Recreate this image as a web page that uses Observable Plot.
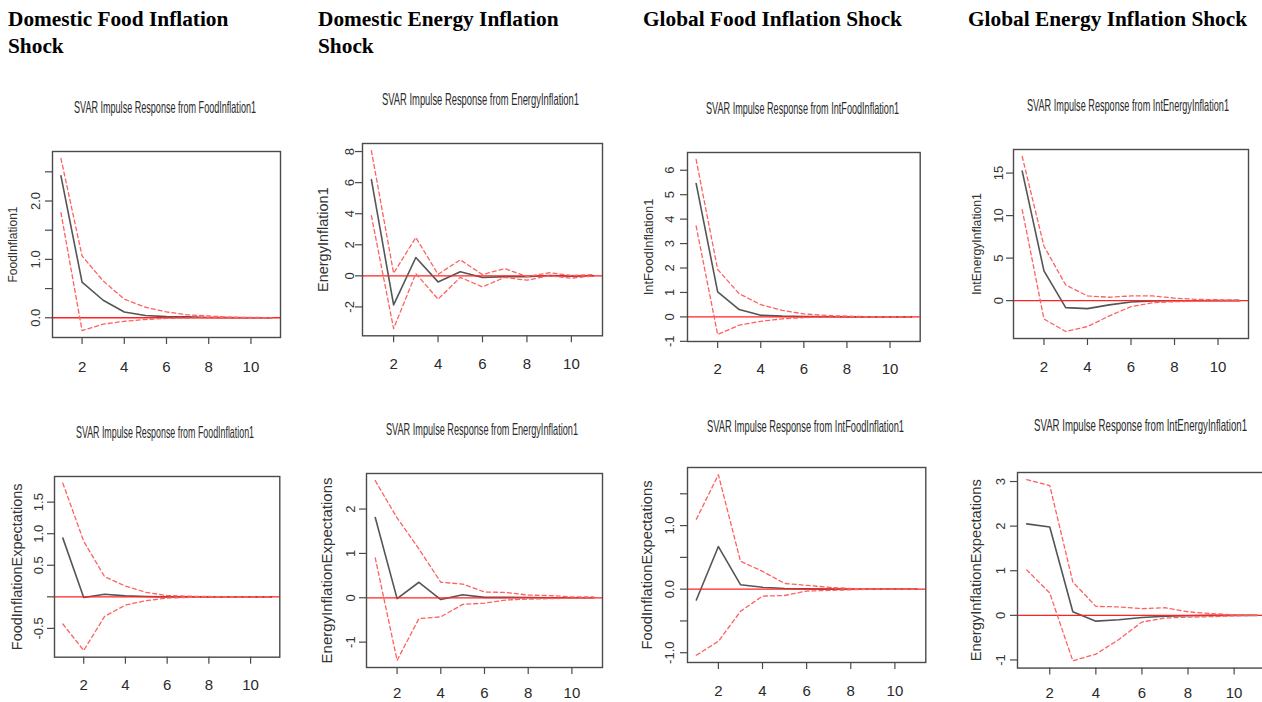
<!DOCTYPE html>
<html>
<head>
<meta charset="utf-8">
<script src="https://cdn.jsdelivr.net/npm/d3@7"></script>
<script src="https://cdn.jsdelivr.net/npm/@observablehq/plot@0.6"></script>
<style>
html, body { margin: 0; padding: 0; background: #fff; overflow: hidden; width: 1262px; height: 702px; }
#root { position: relative; width: 1262px; height: 702px; overflow: hidden; }
.hdr { position: absolute; font-family: "Liberation Serif", "Times New Roman", serif; font-weight: bold; font-size: 21.33px; line-height: 27.3px; color: #000; white-space: nowrap; }
.ttl { position: absolute; font-family: "Liberation Sans", Arial, sans-serif; font-size: 16.5px; line-height: 19px; color: #2a2a2a; white-space: nowrap; transform-origin: 0 50%; }
.panel { position: absolute; }
.panel svg { max-width: none !important; display: block; }
</style>
</head>
<body>
<div id="root"></div>
<script>
// ---------------- data ----------------
const horizon = [1, 2, 3, 4, 5, 6, 7, 8, 9, 10, 11];
const xTicks = [2, 4, 6, 8, 10];

const headerLines = [
  ["Domestic Food Inflation", "Shock"],
  ["Domestic Energy Inflation", "Shock"],
  ["Global Food Inflation Shock"],
  ["Global Energy Inflation Shock"]
];
const shockNames = ["FoodInflation1", "EnergyInflation1", "IntFoodInflation1", "IntEnergyInflation1"];
const topResponseNames = ["FoodInflation1", "EnergyInflation1", "IntFoodInflation1", "IntEnergyInflation1"];
const bottomResponseNames = ["FoodInflationExpectations", "EnergyInflationExpectations", "FoodInflationExpectations", "EnergyInflationExpectations"];

// Top row: own-shock responses
const foodOnFood = [2.43, 0.61, 0.30, 0.10, 0.04, 0.02, 0.015, 0.005, 0.002, 0.001, 0.0];
const foodOnFoodUpper = [2.73, 1.06, 0.63, 0.32, 0.18, 0.10, 0.05, 0.03, 0.01, 0.005, 0.003];
const foodOnFoodLower = [1.80, -0.22, -0.11, -0.06, -0.03, -0.01, -0.005, 0, 0, 0, 0];

const energyOnEnergy = [6.19, -1.87, 1.18, -0.39, 0.26, -0.11, -0.05, -0.06, 0.02, -0.02, 0.01];
const energyOnEnergyUpper = [8.06, 0.17, 2.47, 0.10, 1.03, 0.08, 0.47, -0.05, 0.20, 0.02, 0.08];
const energyOnEnergyLower = [3.87, -3.40, 0.15, -1.50, -0.10, -0.71, -0.10, -0.28, 0.0, -0.15, 0.0];

const intFoodOnIntFood = [5.46, 1.02, 0.30, 0.07, 0.03, 0.01, 0.005, 0, 0, 0, 0];
const intFoodOnIntFoodUpper = [6.44, 1.94, 0.95, 0.50, 0.27, 0.12, 0.06, 0.03, 0.01, 0.005, 0];
const intFoodOnIntFoodLower = [3.72, -0.72, -0.34, -0.18, -0.08, -0.03, -0.01, 0, 0, 0, 0];

const intEnergyOnIntEnergy = [15.23, 3.50, -0.82, -0.94, -0.50, -0.16, -0.05, -0.02, -0.01, 0, 0];
const intEnergyOnIntEnergyUpper = [16.95, 6.40, 1.84, 0.55, 0.40, 0.55, 0.55, 0.30, 0.15, 0.10, 0.10];
const intEnergyOnIntEnergyLower = [10.70, -2.15, -3.63, -3.05, -1.80, -0.70, -0.25, -0.12, -0.08, -0.05, 0];

// Bottom row: responses of inflation expectations
const foodOnExpect = [0.93, -0.01, 0.04, 0.015, 0.005, 0, 0, 0, 0, 0, 0];
const foodOnExpectUpper = [1.80, 0.88, 0.32, 0.17, 0.07, 0.02, 0.01, 0.005, 0, 0, 0];
const foodOnExpectLower = [-0.43, -0.85, -0.31, -0.13, -0.06, -0.02, -0.01, 0, 0, 0, 0];

const energyOnExpect = [1.81, -0.02, 0.35, -0.04, 0.07, 0.01, 0.01, 0.005, 0, 0, 0];
const energyOnExpectUpper = [2.64, 1.80, 1.10, 0.35, 0.31, 0.13, 0.12, 0.06, 0.05, 0.02, 0.02];
const energyOnExpectLower = [0.90, -1.41, -0.47, -0.43, -0.15, -0.12, -0.05, -0.03, -0.02, -0.01, 0];

const intFoodOnExpect = [-0.17, 0.67, 0.07, 0.03, 0.01, 0.005, 0, 0, 0, 0, 0];
const intFoodOnExpectUpper = [1.10, 1.80, 0.44, 0.28, 0.09, 0.06, 0.03, 0.01, 0.005, 0, 0];
const intFoodOnExpectLower = [-1.04, -0.82, -0.35, -0.11, -0.10, -0.03, -0.02, -0.01, 0, 0, 0];

const intEnergyOnExpect = [2.05, 1.98, 0.08, -0.13, -0.10, -0.05, -0.02, -0.01, 0, 0, 0];
const intEnergyOnExpectUpper = [3.04, 2.91, 0.75, 0.20, 0.19, 0.15, 0.17, 0.08, 0.04, 0.01, 0];
const intEnergyOnExpectLower = [1.02, 0.50, -1.02, -0.87, -0.54, -0.15, -0.06, -0.04, -0.03, -0.01, 0];

// y tick values and their labels (empty = tick without label)
const yTicks1 = [0, 0.5, 1, 1.5, 2, 2.5];       const yTickLabels1 = ["0.0", "", "1.0", "", "2.0", ""];
const yTicks2 = [-2, 0, 2, 4, 6, 8];            const yTickLabels2 = ["-2", "0", "2", "4", "6", "8"];
const yTicks3 = [-1, 0, 1, 2, 3, 4, 5, 6];      const yTickLabels3 = ["-1", "0", "1", "2", "3", "4", "5", "6"];
const yTicks4 = [0, 5, 10, 15];                 const yTickLabels4 = ["0", "5", "10", "15"];
const yTicks5 = [-0.5, 0, 0.5, 1, 1.5];         const yTickLabels5 = ["-0.5", "", "0.5", "1.0", "1.5"];
const yTicks6 = [-1, 0, 1, 2];                  const yTickLabels6 = ["-1", "0", "1", "2"];
const yTicks7 = [-1, -0.5, 0, 0.5, 1, 1.5];     const yTickLabels7 = ["-1.0", "", "0.0", "", "1.0", ""];
const yTicks8 = [-1, 0, 1, 2, 3];               const yTickLabels8 = ["-1", "0", "1", "2", "3"];

// ---------------- layout (style only) ----------------
const headerX = [8, 318, 643, 968];
const layout = [
  {L: 52,    T: 151,   R: 280,    B: 337,   titleX: 165,    titleY: 107.7, titleW: 182, yTickOff: 17, yLabOff: 39,   yLabSize: 12,   xLabOff: 29.5},
  {L: 361.7, T: 142.7, R: 601.7,  B: 335,   titleX: 480,    titleY: 99.3,  titleW: 197, yTickOff: 13, yLabOff: 38.7, yLabSize: 14.5, xLabOff: 28.3},
  {L: 687.3, T: 151.7, R: 920,    B: 340.7, titleX: 802.7,  titleY: 108.3, titleW: 193, yTickOff: 18, yLabOff: 39,   yLabSize: 13,   xLabOff: 27.8},
  {L: 1012.7,T: 149.3, R: 1247.7, B: 338.3, titleX: 1128.3, titleY: 105,   titleW: 202, yTickOff: 15, yLabOff: 36.7, yLabSize: 12.2, xLabOff: 28.4},
  {L: 54,    T: 476,   R: 279.3,  B: 656.7, titleX: 165,    titleY: 432.7, titleW: 178, yTickOff: 16, yLabOff: 37.3, yLabSize: 14.5, xLabOff: 28.3},
  {L: 365.7, T: 472.7, R: 601.7,  B: 666.7, titleX: 481.7,  titleY: 429.3, titleW: 192, yTickOff: 16, yLabOff: 39,   yLabSize: 15,   xLabOff: 25.8},
  {L: 686.7, T: 466.7, R: 925,    B: 661.7, titleX: 805,    titleY: 426,   titleW: 197, yTickOff: 18, yLabOff: 40,   yLabSize: 14.7, xLabOff: 28.3},
  {L: 1016.7,T: 471.7, R: 1265.6, B: 667.3, titleX: 1140,   titleY: 425,   titleW: 213, yTickOff: 17, yLabOff: 41.7, yLabSize: 14.7, xLabOff: 25.2}
];

const panels = [
  {shock: shockNames[0], resp: topResponseNames[0], irf: foodOnFood, up: foodOnFoodUpper, lo: foodOnFoodLower, yt: yTicks1, ytl: yTickLabels1},
  {shock: shockNames[1], resp: topResponseNames[1], irf: energyOnEnergy, up: energyOnEnergyUpper, lo: energyOnEnergyLower, yt: yTicks2, ytl: yTickLabels2},
  {shock: shockNames[2], resp: topResponseNames[2], irf: intFoodOnIntFood, up: intFoodOnIntFoodUpper, lo: intFoodOnIntFoodLower, yt: yTicks3, ytl: yTickLabels3},
  {shock: shockNames[3], resp: topResponseNames[3], irf: intEnergyOnIntEnergy, up: intEnergyOnIntEnergyUpper, lo: intEnergyOnIntEnergyLower, yt: yTicks4, ytl: yTickLabels4},
  {shock: shockNames[0], resp: bottomResponseNames[0], irf: foodOnExpect, up: foodOnExpectUpper, lo: foodOnExpectLower, yt: yTicks5, ytl: yTickLabels5},
  {shock: shockNames[1], resp: bottomResponseNames[1], irf: energyOnExpect, up: energyOnExpectUpper, lo: energyOnExpectLower, yt: yTicks6, ytl: yTickLabels6},
  {shock: shockNames[2], resp: bottomResponseNames[2], irf: intFoodOnExpect, up: intFoodOnExpectUpper, lo: intFoodOnExpectLower, yt: yTicks7, ytl: yTickLabels7},
  {shock: shockNames[3], resp: bottomResponseNames[3], irf: intEnergyOnExpect, up: intEnergyOnExpectUpper, lo: intEnergyOnExpectLower, yt: yTicks8, ytl: yTickLabels8}
];

// ---------------- rendering ----------------
const root = document.getElementById("root");

headerLines.forEach((lines, i) => {
  const d = document.createElement("div");
  d.className = "hdr";
  d.style.left = headerX[i] + "px";
  d.style.top = "6px";
  lines.forEach((ln, j) => {
    if (j) d.appendChild(document.createElement("br"));
    d.appendChild(document.createTextNode(ln));
  });
  root.appendChild(d);
});

const mL = 62, mT = 8, mR = 8, mB = 34;
const FRAME = "#4a4a4a";

panels.forEach((p, i) => {
  const g = layout[i];
  const W = g.R - g.L, H = g.B - g.T;
  const rows = horizon.map((h, k) => ({h, irf: p.irf[k], hi: p.up[k], lo: p.lo[k]}));
  const ext = d3.extent([...p.lo, ...p.up]);
  const pad = (ext[1] - ext[0]) * 0.04;
  const yLabels = p.yt.map((v, k) => ({v, s: p.ytl[k]})).filter(d => d.s !== "");

  const chart = Plot.plot({
    width: W + mL + mR,
    height: H + mT + mB,
    marginLeft: mL, marginTop: mT, marginRight: mR, marginBottom: mB,
    x: {domain: [0.6, 11.4]},
    y: {domain: [ext[0] - pad, ext[1] + pad]},
    style: {background: "transparent", fontFamily: "'Liberation Sans', Arial, sans-serif", color: "#333", overflow: "visible"},
    marks: [
      Plot.line(rows, {x: "h", y: "irf", stroke: "#555555", strokeWidth: 1.6}),
      Plot.ruleY([0], {stroke: "#ff2222", strokeWidth: 1.3}),
      Plot.line(rows, {x: "h", y: "hi", stroke: "#ff6060", strokeWidth: 1.3, strokeDasharray: "4,3"}),
      Plot.line(rows, {x: "h", y: "lo", stroke: "#ff6060", strokeWidth: 1.3, strokeDasharray: "4,3"}),
      Plot.frame({stroke: FRAME, strokeWidth: 1.4}),
      Plot.axisX({ticks: xTicks, tickSize: 7, tickFormat: () => "", label: null, stroke: FRAME, strokeWidth: 1.2}),
      Plot.axisY({ticks: p.yt, tickSize: 7, tickFormat: () => "", label: null, stroke: FRAME, strokeWidth: 1.2}),
      Plot.text(xTicks, {x: d => d, text: d => String(d), frameAnchor: "bottom", dy: g.xLabOff, lineAnchor: "middle", fontSize: 15, fill: "#2a2a2a", ariaLabel: "xlab"}),
      Plot.text(yLabels, {y: "v", text: "s", frameAnchor: "left", dx: -g.yTickOff, rotate: -90, lineAnchor: "middle", textAnchor: "middle", fontSize: 13, fill: "#333"}),
      Plot.text([p.resp], {frameAnchor: "left", dx: -g.yLabOff, rotate: -90, lineAnchor: "middle", textAnchor: "middle", fontSize: g.yLabSize, fill: "#333"})
    ]
  });

  // condensed look of the horizontal tick labels
  d3.select(chart).selectAll('g[aria-label="xlab"] text').each(function () {
    const t = this.getAttribute("transform") || "";
    this.setAttribute("transform", t + " scale(0.7,1)");
  });

  const div = document.createElement("div");
  div.className = "panel";
  div.style.left = (g.L - mL) + "px";
  div.style.top = (g.T - mT) + "px";
  div.style.width = (W + mL + mR) + "px";
  div.appendChild(chart);
  root.appendChild(div);

  const t = document.createElement("div");
  t.className = "ttl";
  t.textContent = "SVAR Impulse Response from " + p.shock;
  t.style.top = (g.titleY - 9.5) + "px";
  t.style.left = "0px";
  root.appendChild(t);
  const w = t.getBoundingClientRect().width;
  const s = g.titleW / w;
  t.style.left = (g.titleX - g.titleW / 2) + "px";
  t.style.transform = "scaleX(" + s + ")";
});
</script>
</body>
</html>
